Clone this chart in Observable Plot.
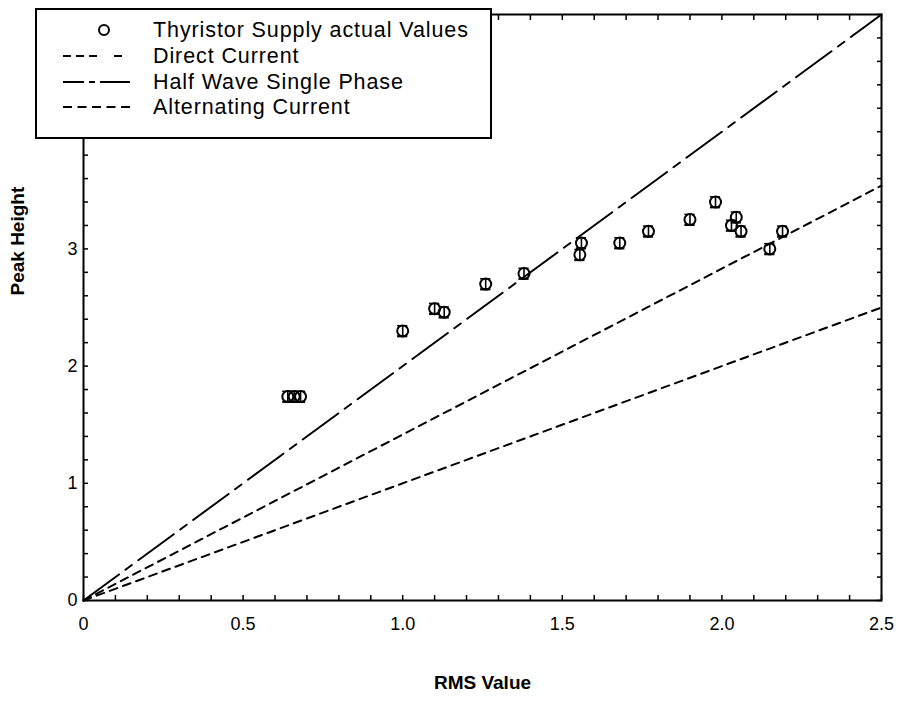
<!DOCTYPE html>
<html><head><meta charset="utf-8">
<script src="https://cdn.jsdelivr.net/npm/d3@7"></script>
<script src="https://cdn.jsdelivr.net/npm/@observablehq/plot@0.6"></script>
<style>
body{margin:0;background:#fff;}
#wrap{position:relative;width:903px;height:702px;font-family:"Liberation Sans",Arial,sans-serif;}
#legend{position:absolute;left:35px;top:8px;width:457px;height:131px;border:2px solid #000;background:#fff;box-sizing:border-box;}
.row{position:absolute;left:0;width:100%;height:26px;}
.row svg{position:absolute;left:22px;top:0;}
.row span{position:absolute;left:116px;top:0;line-height:26px;font-size:21.5px;letter-spacing:0.9px;color:#000;white-space:nowrap;}
</style>
</head><body>
<div id="wrap"><div id="legend"></div></div>
<script>
// Measured points (RMS value, peak height)
const rms  = [0.64, 0.66, 0.68, 1.00, 1.10, 1.13, 1.26, 1.38, 1.555, 1.56, 1.68, 1.77, 1.90, 1.98, 2.03, 2.045, 2.06, 2.15, 2.19];
const peak = [1.74, 1.74, 1.74, 2.30, 2.49, 2.46, 2.70, 2.79, 2.95, 3.05, 3.05, 3.15, 3.25, 3.40, 3.20, 3.27, 3.15, 3.00, 3.15];

// Theoretical lines (endpoints)
const lineRms = [0, 2.5];
const dcPeak  = [0, 2.5];
const hwPeak  = [0, 5.0];
const acPeak  = [0, 3.54];

// Axes
const xTicks = [0, 0.5, 1, 1.5, 2, 2.5];
const xTickLabels = ["0", "0.5", "1.0", "1.5", "2.0", "2.5"];
const yTicks = [0, 1, 2, 3, 4];
const yTickLabels = ["0", "1", "2", "3", "4"];
const xMinor = [0,0.1,0.2,0.3,0.4,0.5,0.6,0.7,0.8,0.9,1.0,1.1,1.2,1.3,1.4,1.5,1.6,1.7,1.8,1.9,2.0,2.1,2.2,2.3,2.4,2.5];
const yMinor = [0,0.2,0.4,0.6,0.8,1.0,1.2,1.4,1.6,1.8,2.0,2.2,2.4,2.6,2.8,3.0,3.2,3.4,3.6,3.8,4.0,4.2,4.4,4.6,4.8,5.0];

const seriesNames = ["Thyristor Supply actual Values", "Direct Current", "Half Wave Single Phase", "Alternating Current"];
const xLabel = "RMS Value";
const yLabel = "Peak Height";

const points = rms.map((x, i) => ({x, y: peak[i]}));
const mk = ys => lineRms.map((x, i) => ({x, y: ys[i]}));
const dcData = mk(dcPeak), hwData = mk(hwPeak), acData = mk(acPeak);

const dashDC = "8,6", dashHW = "44,8,8,8", dashAC = "8,6";
const err = 0.045, cap = 0.016;

const chart = Plot.plot({
  width: 903, height: 702,
  marginLeft: 83, marginRight: 22, marginTop: 14, marginBottom: 102,
  style: {fontFamily: "'Liberation Sans', Arial, sans-serif", fontSize: "18px", color: "#000", background: "#fff", overflow: "visible"},
  x: {domain: [0, 2.5]},
  y: {domain: [0, 5]},
  marks: [
    Plot.line(dcData, {x: "x", y: "y", stroke: "#000", strokeWidth: 2, strokeDasharray: dashDC}),
    Plot.line(acData, {x: "x", y: "y", stroke: "#000", strokeWidth: 2, strokeDasharray: dashAC}),
    Plot.line(hwData, {x: "x", y: "y", stroke: "#000", strokeWidth: 2, strokeDasharray: dashHW}),
    Plot.ruleX(points, {x: "x", y1: d => d.y - err, y2: d => d.y + err, stroke: "#000", strokeWidth: 1.6}),
    Plot.ruleY(points, {y: d => d.y - err, x1: d => d.x - cap, x2: d => d.x + cap, stroke: "#000", strokeWidth: 2.2}),
    Plot.ruleY(points, {y: d => d.y + err, x1: d => d.x - cap, x2: d => d.x + cap, stroke: "#000", strokeWidth: 1.4}),
    Plot.dot(points, {x: "x", y: "y", r: 5.5, stroke: "#000", strokeWidth: 2, fill: "none"}),
    Plot.frame({stroke: "#000", strokeWidth: 2}),
    Plot.axisX({ticks: xTicks, tickFormat: d => xTickLabels[xTicks.indexOf(d)], tickSize: 0, tickPadding: 17, label: null}),
    Plot.axisY({ticks: yTicks, tickFormat: d => yTickLabels[yTicks.indexOf(d)], tickSize: 0, tickPadding: 6, label: null}),
    Plot.axisX({ticks: xMinor, tickSize: 5, dy: -5, text: null, label: null, strokeWidth: 1.5}),
    Plot.axisX({anchor: "top", ticks: xMinor, tickSize: 5, dy: 5, text: null, label: null, strokeWidth: 1.5}),
    Plot.axisY({ticks: yMinor, tickSize: 5, dx: 5, text: null, label: null, strokeWidth: 1.5}),
    Plot.axisY({anchor: "right", ticks: yMinor, tickSize: 5, dx: -5, text: null, label: null, strokeWidth: 1.5}),
    Plot.text([xLabel], {frameAnchor: "bottom", dy: 88, fontWeight: "bold", fontSize: 19}),
    Plot.text([yLabel], {frameAnchor: "left", dx: -66, dy: -12, rotate: -90, fontWeight: "bold", fontSize: 19})
  ]
});
document.getElementById("wrap").prepend(chart);

// Legend
const legend = document.getElementById("legend");
const rowTops = [7, 33, 59, 84];
const symbols = [
  `<circle cx="45" cy="13" r="5" fill="none" stroke="#000" stroke-width="2"/>`,
  `<line x1="4" y1="13" x2="71" y2="13" stroke="#000" stroke-width="2" stroke-dasharray="8,5,8,5,8,17,8,100"/>`,
  `<line x1="4" y1="13" x2="71" y2="13" stroke="#000" stroke-width="2" stroke-dasharray="21,5,6,5,30,100"/>`,
  `<line x1="4" y1="13" x2="71" y2="13" stroke="#000" stroke-width="2" stroke-dasharray="9,5.5"/>`
];
seriesNames.forEach((name, i) => {
  const row = document.createElement("div");
  row.className = "row";
  row.style.top = rowTops[i] + "px";
  row.innerHTML = `<svg width="80" height="26">${symbols[i]}</svg><span>${name}</span>`;
  legend.appendChild(row);
});
</script>
</body></html>
